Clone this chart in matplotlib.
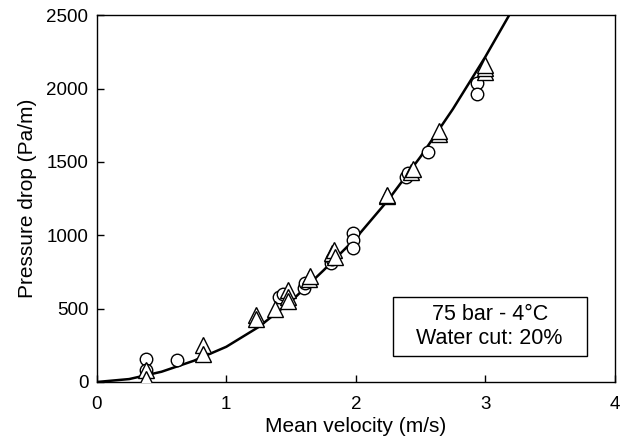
import matplotlib
matplotlib.use("Agg")
import matplotlib.pyplot as plt
from matplotlib.patches import Rectangle

plt.rcParams['font.family'] = ['Liberation Sans', 'DejaVu Sans']

# Model curve
curve_v = [0, 0.25, 0.5, 0.75, 1.0, 1.25, 1.5, 1.75, 2.0, 2.25, 2.5, 2.75, 3.0, 3.25]
curve_p = [0, 20, 70, 145, 240, 375, 550, 760, 980, 1240, 1535, 1860, 2215, 2600]

# Circles
circ_v = [0.38, 0.38, 0.62, 1.41, 1.44, 1.60, 1.61, 1.81, 1.82, 1.98, 1.98, 1.98,
          2.39, 2.40, 2.56, 2.94, 2.94]
circ_p = [160, 85, 150, 580, 600, 640, 676, 810, 840, 1015, 970, 915,
          1395, 1425, 1570, 2040, 1962]

# Triangles
tri_v = [0.38, 0.38, 0.82, 0.82, 1.23, 1.23, 1.38, 1.48, 1.48, 1.48, 1.64, 1.65,
         1.82, 1.83, 1.84, 2.24, 2.24, 2.43, 2.44, 2.64, 2.64, 3.0, 3.0, 3.0]
tri_p = [80, 20, 250, 190, 455, 430, 497, 627, 580, 550, 700, 720,
         880, 900, 850, 1265, 1275, 1432, 1455, 1690, 1710, 2115, 2140, 2160]

fig = plt.figure(figsize=(6.37, 4.46), dpi=100)
ax = fig.add_axes([0.152, 0.1435, 0.813, 0.8225])

ax.plot(curve_v, curve_p, color='black', lw=1.8, zorder=2)
ax.plot(circ_v, circ_p, ls='none', marker='o', ms=9, mfc='white', mec='black', mew=1.0, zorder=3)
ax.plot(tri_v, tri_p, ls='none', marker='^', ms=12, mfc='white', mec='black', mew=1.0, zorder=4)

ax.set_xlim(0, 4)
ax.set_ylim(0, 2500)
ax.set_xticks([0, 1, 2, 3, 4])
ax.set_yticks([0, 500, 1000, 1500, 2000, 2500])
ax.tick_params(direction='in', length=5, width=1, labelsize=13.5, top=False, right=False)
ax.tick_params(axis='x', pad=10)
ax.tick_params(axis='y', pad=6)
ax.set_xlabel('Mean velocity (m/s)', fontsize=15, labelpad=3)
ax.set_ylabel('Pressure drop (Pa/m)', fontsize=15, labelpad=7)
for s in ax.spines.values():
    s.set_linewidth(1.0)

ax.add_patch(Rectangle((0.571, 0.071), 0.375, 0.161, transform=ax.transAxes,
                       fc='white', ec='black', lw=1.0, zorder=5))
ax.text(0.7585, 0.151, '75 bar - 4\u00b0C\nWater cut: 20%', transform=ax.transAxes,
        ha='center', va='center', fontsize=15.5, linespacing=1.15, zorder=6)

fig.savefig('out.png', dpi=100)
